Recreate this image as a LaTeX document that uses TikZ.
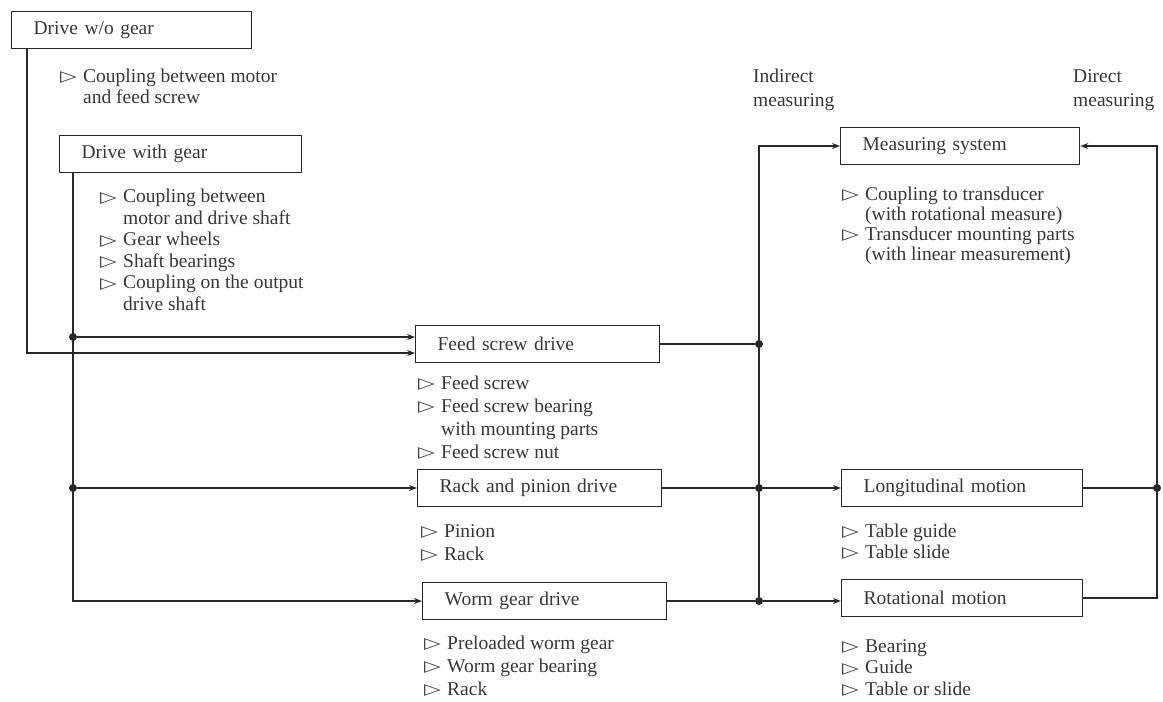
\documentclass[tikz,border=0pt]{standalone}
\usepackage{fontspec}
\usepackage{graphicx}
\setmainfont{Liberation Serif}
\newfontfamily\symfont{DejaVu Sans}
\usetikzlibrary{arrows.meta}
\definecolor{ink}{RGB}{40,40,40}
\definecolor{txt}{RGB}{55,55,55}
\newcommand\tri{\makebox[23pt][l]{\raisebox{0.5pt}{\scalebox{1.55}[1.1]{\symfont\fontsize{14}{14}\selectfont ▷}}}}
\newcommand\ind{\hspace*{23pt}}
\begin{document}
\begin{tikzpicture}[x=1pt,y=-1pt,
  every node/.style={text=txt, font=\fontsize{19.5}{22}\selectfont},
  box/.style={draw=ink, line width=1.3pt, rectangle, anchor=west, minimum height=37pt,
    inner xsep=22pt, inner ysep=0pt, text width=#1, align=left},
  lst/.style={anchor=base west, inner sep=0pt, align=left},
  ln/.style={draw=ink, line width=1.3pt},
  arr/.style={ln, -{Stealth[length=8pt,width=6pt]}},
  dot/.style={circle, fill=ink, inner sep=0pt, minimum size=8pt}]

\useasboundingbox (0,0) rectangle (1163,702);

% boxes
\node[box=196pt] (dwo) at (11,30) {Drive w/o gear};
\node[box=198pt] (dwg) at (59,154) {Drive with gear};
\node[box=200pt] (fsd) at (415,344) {Feed screw drive};
\node[box=200pt] (rpd) at (417,488) {Rack and pinion drive};
\node[box=200pt] (wgd) at (422,601) {Worm gear drive};
\node[box=195pt] (ms) at (840,146) {Measuring system};
\node[box=197pt] (lm) at (841,488) {Longitudinal motion};
\node[box=197pt] (rm) at (841,598) {Rotational motion};

% lists (anchored at the baseline of their last line)
\node[lst, font=\fontsize{19.5}{21}\selectfont] (l0) at (60,103) {\tri Coupling between motor\\\ind and feed screw};
\node[lst, font=\fontsize{19.5}{21.5}\selectfont] (l1) at (100,310) {\tri Coupling between\\\ind motor and drive shaft\\\tri Gear wheels\\\tri Shaft bearings\\\tri Coupling on the output\\\ind drive shaft};
\node[lst, font=\fontsize{19.5}{23}\selectfont] (l2) at (418,458) {\tri Feed screw\\\tri Feed screw bearing\\\ind with mounting parts\\\tri Feed screw nut};
\node[lst, font=\fontsize{19.5}{23}\selectfont] (l3) at (421,560) {\tri Pinion\\\tri Rack};
\node[lst, font=\fontsize{19.5}{23}\selectfont] (l4) at (424,695) {\tri Preloaded worm gear\\\tri Worm gear bearing\\\tri Rack};
\node[lst, font=\fontsize{19.5}{20}\selectfont] (l5) at (842,260) {\tri Coupling to transducer\\\ind(with rotational measure)\\\tri Transducer mounting parts\\\ind(with linear measurement)};
\node[lst, font=\fontsize{19.5}{21}\selectfont] (l6) at (842,558) {\tri Table guide\\\tri Table slide};
\node[lst, font=\fontsize{19.5}{21.5}\selectfont] (l7) at (842,695) {\tri Bearing\\\tri Guide\\\tri Table or slide};
\node[lst, font=\fontsize{19.5}{24}\selectfont] (ind) at (753,106) {Indirect\\measuring};
\node[lst, font=\fontsize{19.5}{24}\selectfont] (dir) at (1073,106) {Direct\\measuring};

% left connectors
\coordinate (a0) at ([xshift=16pt]dwo.south west);
\draw[arr] (a0) |- ([yshift=-9pt]fsd.west);
\coordinate (b0) at ([xshift=14pt]dwg.south west);
\node[dot] (b1) at (b0 |- 0,337) {};
\node[dot] (b2) at (b0 |- rpd.west) {};
\draw[arr] (b0) |- (wgd.west);
\draw[arr] (b1) -- (fsd.west |- b1);
\draw[arr] (b2) -- (rpd.west);

% bus
\node[dot] (c1) at (759,344) {};
\node[dot] (c2) at (759,488) {};
\node[dot] (c3) at (759,601) {};
\draw[ln] (fsd.east) -- (c1);
\draw[ln] (rpd.east) -- (c2);
\draw[ln] (wgd.east) -- (c3);
\draw[arr] (c2) -- (lm.west);
\draw[arr] (c3) -- (rm.west |- c3);
\draw[arr] (c3) |- (ms.west);

% right side
\node[dot] (d1) at (1157,488) {};
\coordinate (d0) at (1157,146);
\draw[ln] (lm.east) -- (d1);
\draw[arr] (rm.east) -| (d0) -- (ms.east);
\end{tikzpicture}
\end{document}
